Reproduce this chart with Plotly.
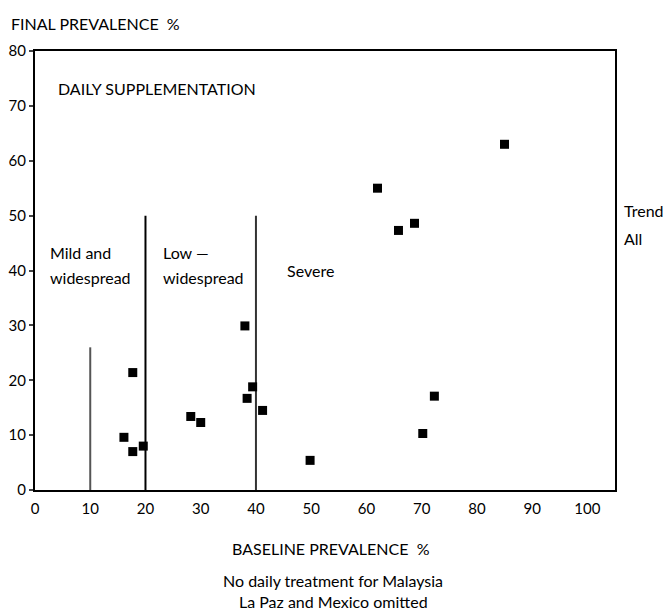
import plotly.graph_objects as go

# Data
baseline = [85, 62, 68.7, 65.8, 38, 17.7, 39.4, 38.4, 41.2, 72.3, 70.2, 28.2, 30.0, 16.1, 17.7, 19.6, 49.8]
final = [63.0, 55.0, 48.6, 47.3, 29.9, 21.4, 18.8, 16.7, 14.5, 17.1, 10.3, 13.4, 12.3, 9.6, 7.0, 8.0, 5.4]

divider_x = [10, 20, 40]
divider_top = [26, 50, 50]
divider_color = ["#555555", "#000000", "#333333"]

x_ticks = [0, 10, 20, 30, 40, 50, 60, 70, 80, 90, 100]
y_ticks = [0, 10, 20, 30, 40, 50, 60, 70, 80]

FONT = "Lato"
W, H = 670, 610
L, R, T, B = 35, 55, 51, 120

fig = go.Figure()

for xv, top, col in zip(divider_x, divider_top, divider_color):
    fig.add_trace(go.Scatter(x=[xv, xv], y=[0, top], mode="lines",
                             line=dict(color=col, width=2), hoverinfo="skip",
                             showlegend=False))

fig.add_trace(go.Scatter(x=baseline, y=final, mode="markers",
                         marker=dict(symbol="square", size=9, color="black"),
                         showlegend=False))

ann = [
    ("FINAL PREVALENCE  %", 10, 23, "left"),
    ("DAILY SUPPLEMENTATION", 57, 88, "left"),
    ("Mild and", 49, 252, "left"),
    ("widespread", 49, 277, "left"),
    ("Low —", 162, 252, "left"),
    ("widespread", 162, 277, "left"),
    ("Severe", 286, 270, "left"),
    ("Trend", 623, 210, "left"),
    ("All", 623, 238, "left"),
    ("BASELINE PREVALENCE  %", 331, 548, "center"),
    ("No daily treatment for Malaysia", 333, 580, "center"),
    ("La Paz and Mexico omitted", 333, 601, "center"),
]
pw, ph = W - L - R, H - T - B
annotations = []
for text, px, py, anchor in ann:
    annotations.append(dict(
        xref="paper", yref="paper", showarrow=False, text=text,
        font=dict(family=FONT, size=16, color="black"),
        x=(px - L) / pw, y=1 - (py - T) / ph,
        xanchor=anchor, yanchor="middle", borderpad=0,
    ))

fig.update_layout(
    width=W, height=H,
    margin=dict(l=L, r=R, t=T, b=B, autoexpand=False),
    paper_bgcolor="white", plot_bgcolor="white",
    font=dict(family=FONT, size=15, color="black"),
    annotations=annotations,
    xaxis=dict(range=[0, 105], tickvals=x_ticks, ticks="", showgrid=False,
               zeroline=False, showline=True, linecolor="black", linewidth=2,
               mirror=True, ticklabelstandoff=4, automargin=False,
               tickfont=dict(family=FONT, size=15)),
    yaxis=dict(range=[0, 80], tickvals=y_ticks, ticks="outside", ticklen=4,
               tickwidth=2, showgrid=False, zeroline=False, showline=True,
               linecolor="black", linewidth=2, mirror=True, automargin=False,
               ticklabelstandoff=0, tickfont=dict(family=FONT, size=15)),
)

fig.write_html("out.html", config={"displayModeBar": False},
               post_script="document.body.style.margin='0px';")
